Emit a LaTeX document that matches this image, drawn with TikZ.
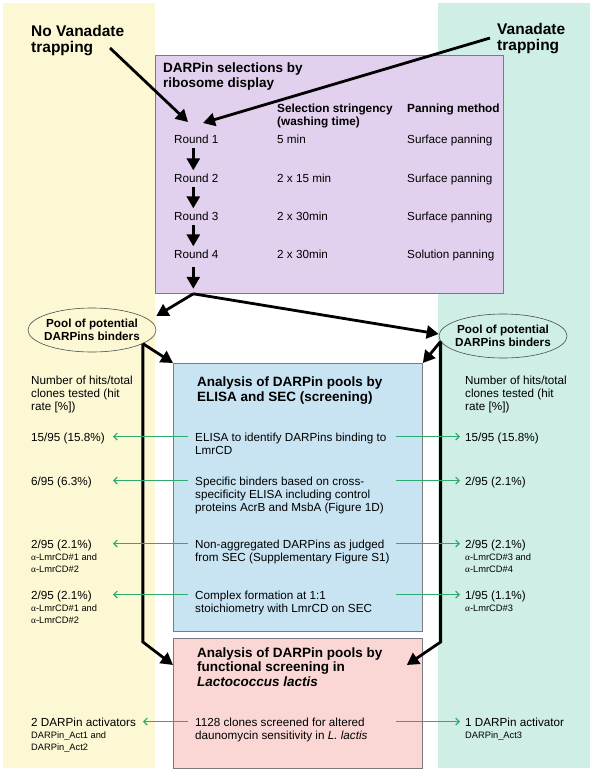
\documentclass[tikz,border=0pt]{standalone}
\usepackage{fontspec}
\setmainfont{Liberation Sans}
\newfontfamily\grserif{Liberation Serif}
\usetikzlibrary{arrows.meta,shapes.geometric,calc}
\definecolor{ypanel}{RGB}{253,248,212}
\definecolor{tpanel}{RGB}{206,238,230}
\definecolor{pboxc}{RGB}{226,209,238}
\definecolor{bboxc}{RGB}{200,228,243}
\definecolor{rboxc}{RGB}{250,215,212}
\definecolor{gline}{RGB}{46,170,110}
\definecolor{bord}{RGB}{125,120,130}
\newcommand{\al}{{\grserif α}}
\begin{document}
\begin{tikzpicture}[x=1pt,y=-1pt,
  panelbox/.style={draw=none, anchor=north west, inner sep=0pt},
  mainbox/.style={draw=bord, line width=0.8pt, anchor=north west, inner sep=0pt},
  txt/.style={anchor=base west, inner sep=0pt, align=left, font=\fontsize{11.7}{13}\selectfont},
  smalltxt/.style={anchor=base west, inner sep=0pt, align=left, font=\fontsize{9.3}{11.5}\selectfont},
  headtxt/.style={anchor=base west, inner sep=0pt, align=left, font=\fontsize{11.8}{13}\selectfont\bfseries},
  titletxt/.style={anchor=base west, inner sep=0pt, align=left, font=\fontsize{13.5}{14.5}\selectfont\bfseries},
  bigtxt/.style={anchor=base west, inner sep=0pt, align=left, font=\fontsize{15.5}{16.5}\selectfont\bfseries},
  pool/.style={ellipse, draw=black!70, line width=0.6pt, align=center, inner sep=-2.5pt, minimum width=123pt, minimum height=44pt, font=\fontsize{11.7}{13}\selectfont\bfseries},
  bigarr/.style={draw=black, line width=2.8pt, -{Triangle[width=13pt,length=12pt]}},
  garr/.style={draw=gline, line width=1.1pt, -{Straight Barb[length=3.5pt,width=7pt]}}
]
\useasboundingbox (0,0) rectangle (593,772);
% panels
\node[panelbox, fill=ypanel, minimum width=152pt, minimum height=765pt] (ypan) at (3,3) {};
\node[panelbox, fill=tpanel, minimum width=152pt, minimum height=765pt] (tpan) at (438,3) {};
% boxes
\node[mainbox, fill=pboxc, minimum width=348pt, minimum height=238pt] (purple) at (155,55) {};
\node[mainbox, fill=bboxc, minimum width=249pt, minimum height=268pt] (blue) at (173,363) {};
\node[mainbox, fill=rboxc, minimum width=249pt, minimum height=130pt] (pink) at (173,638) {};

% top labels (anchor = baseline of last line)
\node[bigtxt] (novt) at (31,52.5) {No Vanadate\\trapping};
\node[bigtxt] (vt) at (497,50.5) {Vanadate\\trapping};

% purple content
\node[titletxt] (ptitle) at (163,87) {DARPin selections by\\ribosome display};
\node[headtxt] (hstr) at (277,125) {Selection stringency\\(washing time)};
\node[headtxt] (hpan) at (407,112) {Panning method};
\node[txt] (rd1) at (174,143) {Round 1};
\node[txt] (rd2) at (174,182) {Round 2};
\node[txt] (rd3) at (174,220) {Round 3};
\node[txt] (rd4) at (174,258) {Round 4};
\node[txt] (w1) at (277,143) {5 min};
\node[txt] (w2) at (277,182) {2 x 15 min};
\node[txt] (w3) at (277,220) {2 x 30min};
\node[txt] (w4) at (277,258) {2 x 30min};
\node[txt] (m1) at (407,143) {Surface panning};
\node[txt] (m2) at (407,182) {Surface panning};
\node[txt] (m3) at (407,220) {Surface panning};
\node[txt] (m4) at (407,258) {Solution panning};

% pools
\node[pool] (pool1) at (92,330) {Pool of potential\\DARPins binders};
\node[pool] (pool2) at (503,336) {Pool of potential\\DARPins binders};

% hit-rate headers
\node[txt] (hl) at (31,410) {Number of hits/total\\clones tested (hit\\rate [\%])};
\node[txt] (hr) at (465,410) {Number of hits/total\\clones tested (hit\\rate [\%])};

% blue content
\node[titletxt] (btitle) at (197,401) {Analysis of DARPin pools by\\ELISA and SEC (screening)};
\node[txt] (e1) at (195,454) {ELISA to identify DARPins binding to\\LmrCD};
\node[txt] (e2) at (195,511) {Specific binders based on cross-\\specificity ELISA including control\\proteins AcrB and MsbA (Figure 1D)};
\node[txt] (e3) at (195,561) {Non-aggregated DARPins as judged\\from SEC (Supplementary Figure S1)};
\node[txt] (e4) at (195,612) {Complex formation at 1:1\\stoichiometry with LmrCD on SEC};

% pink content
\node[titletxt] (rtitle) at (197,686) {Analysis of DARPin pools by\\functional screening in\\\textit{Lactococcus lactis}};
\node[txt] (e5) at (195,739) {1128 clones screened for altered\\daunomycin sensitivity in \textit{L. lactis}};

% left results
\node[txt] (lA1) at (31,441) {15/95 (15.8\%)};
\node[txt] (lA2) at (31,485) {6/95 (6.3\%)};
\node[txt] (lA3) at (31,548) {2/95 (2.1\%)};
\node[smalltxt] (lS3) at (31,572) {\al-LmrCD\#1 and\\\al-LmrCD\#2};
\node[txt] (lA4) at (31,599) {2/95 (2.1\%)};
\node[smalltxt] (lS4) at (31,623) {\al-LmrCD\#1 and\\\al-LmrCD\#2};
\node[txt] (lA5) at (31,726) {2 DARPin activators};
\node[smalltxt] (lS5) at (31,750) {DARPin\_Act1 and\\DARPin\_Act2};

% right results
\node[txt] (rA1) at (465,441) {15/95 (15.8\%)};
\node[txt] (rA2) at (465,485) {2/95 (2.1\%)};
\node[txt] (rA3) at (465,548) {2/95 (2.1\%)};
\node[smalltxt] (rS3) at (465,572) {\al-LmrCD\#3 and\\\al-LmrCD\#4};
\node[txt] (rA4) at (465,599) {1/95 (1.1\%)};
\node[smalltxt] (rS4) at (465,611.5) {\al-LmrCD\#3};
\node[txt] (rA5) at (465,726) {1 DARPin activator};
\node[smalltxt] (rS5) at (465,738.5) {DARPin\_Act3};

% coordinates for big arrows
\coordinate (novtail) at (110,48);
\coordinate (vtail) at (490,38);
\coordinate (r1tipa) at (188,122);
\coordinate (r1tipb) at (203,123);
\path ([xshift=-3pt]rd4.south) coordinate (r4c);
\coordinate (pb) at (r4c |- purple.south);
\coordinate (lkink) at ([yshift=-4pt]pink.north west);
\coordinate (rkink) at ([yshift=-4pt]pink.north east);

% big arrows
\draw[bigarr] (novtail) -- (r1tipa);
\draw[bigarr] (vtail) -- (r1tipb);
\draw[bigarr] ([xshift=-3pt,yshift=-5pt]rd1.south) -- ([xshift=-3pt,yshift=3pt]rd2.north);
\draw[bigarr] ([xshift=-3pt,yshift=-5pt]rd2.south) -- ([xshift=-3pt,yshift=3pt]rd3.north);
\draw[bigarr] ([xshift=-3pt,yshift=-5pt]rd3.south) -- ([xshift=-3pt,yshift=3pt]rd4.north);
\draw[bigarr, shorten <=9pt, shorten >=5pt] (r4c) -- (pb);
\draw[bigarr] (pb) -- ([yshift=14pt]pool1.east);
\draw[bigarr] (pb) -- ([yshift=2pt]pool2.west);
\draw[bigarr] (pool1.-15) -- (blue.north west);
\draw[bigarr] (pool2.185) -- (blue.north east);
\draw[bigarr] (pool1.-15) -- (pool1.-15 |- lkink) -- ([yshift=-27pt]pink.north west);
\draw[bigarr] (pool2.185) -- (pool2.185 |- rkink) -- ([xshift=-16pt,yshift=-27pt]pink.north east);

% green arrows (at the first line of each row)
\foreach \k in {1,2,3,4}{
  \draw[garr] ($(e\k.west |- lA\k.base)+(-7,-4.5)$) -- ($(lA\k.base west)+(82,-4.5)$);
  \draw[garr] ($(e\k.west |- rA\k.base)+(201,-4.5)$) -- ($(rA\k.base west)+(-5,-4.5)$);
}
\draw[garr] ($(e5.west |- lA5.base)+(-7,-4.5)$) -- ($(lA5.base west)+(112,-4.5)$);
\draw[garr] ($(e5.west |- rA5.base)+(201,-4.5)$) -- ($(rA5.base west)+(-5,-4.5)$);
\end{tikzpicture}
\end{document}
